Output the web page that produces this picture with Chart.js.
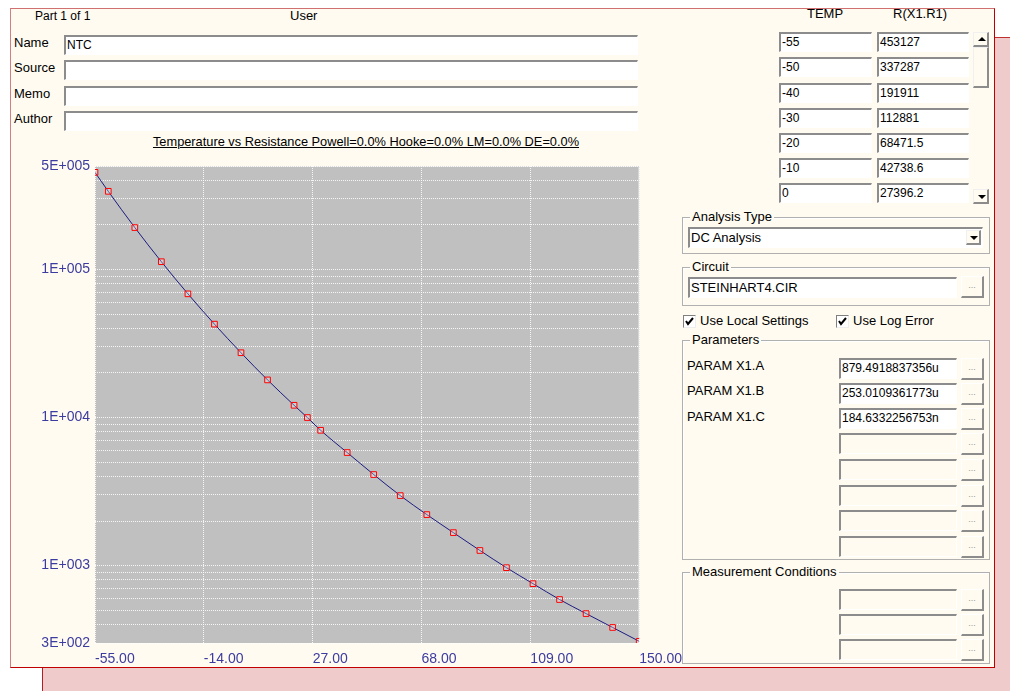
<!DOCTYPE html>
<html>
<head>
<meta charset="utf-8">
<script src="https://cdn.jsdelivr.net/npm/chart.js@4.4.1/dist/chart.umd.min.js"></script>
<style>
body{margin:0;width:1010px;height:691px;background:#fff;position:relative;overflow:hidden;font-family:"Liberation Sans",Arial,sans-serif;color:#000}
.abs{position:absolute}
#back{left:42px;top:37px;width:968px;height:654px;background:#efcbcb;border-left:1px solid #b02020;border-top:1px solid #c03030}
#dlg{left:10px;top:8px;width:983px;height:658px;background:#fffbf0;border-left:1px solid #d08080;border-top:1px solid #d07070;border-right:1px solid #c00000;border-bottom:1px solid #c00000}
.lbl{position:absolute;font-size:13px;line-height:14px;white-space:nowrap}
.inp{position:absolute;box-sizing:border-box;height:20px;background:#fff;border-top:2px solid #8c8c8c;border-left:2px solid #8c8c8c;border-bottom:1px solid #fff;border-right:1px solid #fff;font-size:12px;line-height:17px;padding-left:1px;white-space:nowrap;overflow:hidden}
.dis{background:#fffbf0}
.btn{position:absolute;box-sizing:border-box;width:23px;height:22px;background:#fffbf0;border-top:1px solid #fff;border-left:1px solid #fff;border-right:2px solid #8c8c8c;border-bottom:2px solid #8c8c8c;color:#999;font-size:9px;line-height:17px;text-align:center}
.grp{position:absolute;box-sizing:border-box;border:1px solid #b0b0b0;box-shadow:inset 1px 1px 0 #fff}
.grp span{position:absolute;left:7px;top:-8px;background:#fffbf0;padding:0 2px;font-size:13px;line-height:14px;white-space:nowrap}
.rb{position:absolute;box-sizing:border-box;background:#fffbf0;border-top:1px solid #f0f0f0;border-left:1px solid #f0f0f0;border-right:2px solid #8c8c8c;border-bottom:2px solid #8c8c8c}
.up,.dn{position:absolute;left:4px;width:0;height:0;border-left:4px solid transparent;border-right:4px solid transparent}
.up{top:4px;border-bottom:4px solid #000}
.dn{top:5px;border-top:4px solid #000}
.chk{position:absolute;box-sizing:border-box;width:13px;height:13px;background:#fff;border-top:1px solid #808080;border-left:1px solid #808080;border-bottom:1px solid #eee;border-right:1px solid #eee}
#title{position:absolute;left:0;width:732px;top:135px;text-align:center;font-size:12.8px;line-height:14px;text-decoration:underline}
</style>
</head>
<body>
<div id="back" class="abs"></div>
<div id="dlg" class="abs"></div>

<div class="lbl" style="left:35px;top:9px;font-size:12px">Part 1 of 1</div>
<div class="lbl" style="left:290px;top:9px">User</div>

<div class="lbl" style="left:14px;top:36px">Name</div>
<div class="lbl" style="left:14px;top:61px">Source</div>
<div class="lbl" style="left:14px;top:87px">Memo</div>
<div class="lbl" style="left:14px;top:112px">Author</div>
<div class="inp" style="left:64px;top:35px;width:574px">NTC</div>
<div class="inp" style="left:64px;top:60px;width:574px"></div>
<div class="inp" style="left:64px;top:86px;width:574px"></div>
<div class="inp" style="left:64px;top:111px;width:574px"></div>

<div id="title">Temperature vs Resistance Powell=0.0% Hooke=0.0% LM=0.0% DE=0.0%</div>

<div class="lbl" style="left:807px;top:7px">TEMP</div>
<div class="lbl" style="left:893px;top:7px">R(X1.R1)</div>
<div id="table"></div>
<div class="rb" style="left:973px;top:32px;width:16px;height:15px"><div class="up"></div></div>
<div class="rb" style="left:973px;top:47px;width:16px;height:41px"></div>
<div class="rb" style="left:973px;top:189px;width:16px;height:15px"><div class="dn"></div></div>

<div class="grp" style="left:682px;top:217px;width:308px;height:37px"><span>Analysis Type</span></div>
<div class="inp" style="left:688px;top:227px;width:295px;height:21px;font-size:13px;line-height:18px">DC Analysis</div>
<div class="rb" style="left:966px;top:230px;width:15px;height:15px"><div class="dn" style="left:3px"></div></div>

<div class="grp" style="left:682px;top:267px;width:308px;height:39px"><span>Circuit</span></div>
<div class="inp" style="left:688px;top:277px;width:269px;height:21px;font-size:13px;line-height:18px">STEINHART4.CIR</div>
<div class="btn" style="left:961px;top:276px">...</div>

<div class="chk" style="left:683px;top:315px"><svg width="11" height="11" style="position:absolute;left:0;top:0"><polyline points="2,5 4,8 9,2" fill="none" stroke="#000" stroke-width="2"/></svg></div>
<div class="lbl" style="left:700px;top:314px">Use Local Settings</div>
<div class="chk" style="left:836px;top:315px"><svg width="11" height="11" style="position:absolute;left:0;top:0"><polyline points="2,5 4,8 9,2" fill="none" stroke="#000" stroke-width="2"/></svg></div>
<div class="lbl" style="left:853px;top:314px">Use Log Error</div>

<div class="grp" style="left:682px;top:340px;width:308px;height:220px"><span>Parameters</span></div>
<div class="lbl" style="left:687px;top:359px">PARAM X1.A</div>
<div class="lbl" style="left:687px;top:384px">PARAM X1.B</div>
<div class="lbl" style="left:687px;top:410px">PARAM X1.C</div>
<div id="params"></div>

<div class="grp" style="left:682px;top:572px;width:308px;height:92px"><span>Measurement Conditions</span></div>
<div id="meas"></div>

<canvas id="chart" class="abs" width="670" height="518" style="left:20px;top:150px"></canvas>

<script>
// table values
var tableTemps = ["-55", "-50", "-40", "-30", "-20", "-10", "0"];
var tableRes = ["453127", "337287", "191911", "112881", "68471.5", "42738.6", "27396.2"];
var paramValues = ["879.4918837356u", "253.0109361773u", "184.6332256753n", "", "", "", "", ""];

// curve data (temperature, resistance)
var temps = [-55, -50, -40, -30, -20, -10, 0, 10, 20, 25, 30, 40, 50, 60, 70, 80, 90, 100, 110, 120, 130, 140, 150];
var resist = [453127, 337287, 191911, 112881, 68471.5, 42738.6, 27396.2, 17950, 12100, 10000, 8200, 5800, 4120, 2970, 2210, 1670, 1265, 968, 755, 590, 474, 382, 308];
var xTicks = [-55, -14, 27, 68, 109, 150];
var yLabels = [300, 1000, 10000, 100000, 500000];

function html(id, s) { document.getElementById(id).innerHTML = s; }

var rowTops = [32, 57, 83, 108, 133, 158, 183];
var s = "";
for (var i = 0; i < tableTemps.length; i++) {
    s += '<div class="inp" style="left:779px;top:' + rowTops[i] + 'px;width:93px">' + tableTemps[i] + '</div>';
    s += '<div class="inp" style="left:877px;top:' + rowTops[i] + 'px;width:92px">' + tableRes[i] + '</div>';
}
html("table", s);

var pTops = [358, 383, 408, 433, 459, 485, 510, 536];
s = "";
for (var i = 0; i < pTops.length; i++) {
    s += '<div class="inp' + (paramValues[i] ? '' : ' dis') + '" style="left:839px;top:' + pTops[i] + 'px;width:118px;height:21px">' + paramValues[i] + '</div>';
    s += '<div class="btn" style="left:961px;top:' + pTops[i] + 'px">...</div>';
}
html("params", s);

var mTops = [589, 614, 639];
s = "";
for (var i = 0; i < mTops.length; i++) {
    s += '<div class="inp dis" style="left:839px;top:' + mTops[i] + 'px;width:118px;height:21px"></div>';
    s += '<div class="btn" style="left:961px;top:' + mTops[i] + 'px">...</div>';
}
html("meas", s);

// grid values for log axis: 1..9 x each decade
var yGrid = [];
for (var d = 100; d <= 100000; d *= 10) {
    for (var m = 1; m <= 9; m++) {
        var v = m * d;
        if (v >= 300 && v <= 500000) yGrid.push(v);
    }
}

// 500000 -> "5E+005"
function sci(v) {
    var e = Math.floor(Math.log10(v) + 1e-9);
    var m = Math.round(v / Math.pow(10, e));
    return m + "E+" + String(e).padStart(3, "0");
}

var plotBg = {
    id: "plotBg",
    beforeDraw: function(chart) {
        var a = chart.chartArea, ctx = chart.ctx;
        ctx.save();
        ctx.fillStyle = "#c0c0c0";
        ctx.fillRect(a.left, a.top, a.right - a.left, a.bottom - a.top);
        ctx.strokeStyle = "#dcdcdc";
        ctx.lineWidth = 1;
        ctx.beginPath();
        ctx.moveTo(a.left, a.top + 0.5);
        ctx.lineTo(a.right - 0.5, a.top + 0.5);
        ctx.lineTo(a.right - 0.5, a.bottom);
        ctx.stroke();
        ctx.restore();
    }
};

var points = temps.map(function(t, i) { return { x: t, y: resist[i] }; });
var tickFont = { family: "'Liberation Sans', Arial, sans-serif", size: 14 };

var chart = new Chart(document.getElementById("chart").getContext("2d"), {
    type: "scatter",
    data: {
        datasets: [{
            data: points,
            showLine: true,
            borderColor: "#1c1c80",
            borderWidth: 1,
            cubicInterpolationMode: "monotone",
            pointStyle: "rect",
            pointRadius: 4,
            pointBorderWidth: 1,
            pointBorderColor: "#ff0000",
            pointBackgroundColor: "rgba(255,255,255,0.25)"
        }]
    },
    options: {
        responsive: false,
        animation: false,
        layout: { padding: { top: 16, right: 50, left: 0, bottom: 0 } },
        plugins: { legend: { display: false }, tooltip: { enabled: false } },
        scales: {
            x: {
                type: "linear",
                min: -55,
                max: 150,
                afterBuildTicks: function(scale) {
                    scale.ticks = xTicks.map(function(v) { return { value: v }; });
                },
                afterFit: function(scale) { scale.height = 25; },
                ticks: {
                    align: "start",
                    padding: 8,
                    color: "#3c3ca0",
                    font: tickFont,
                    maxRotation: 0,
                    autoSkip: false,
                    callback: function(v) { return v.toFixed(2); }
                },
                grid: { color: "rgba(255,255,255,0.85)", lineWidth: 1, drawTicks: false },
                border: { display: false, dash: [1, 1] }
            },
            y: {
                type: "logarithmic",
                min: 300,
                max: 500000,
                afterBuildTicks: function(scale) {
                    scale.ticks = yGrid.map(function(v) { return { value: v }; });
                },
                afterFit: function(scale) { scale.width = 75; },
                ticks: {
                    padding: 5,
                    color: "#3c3ca0",
                    font: tickFont,
                    autoSkip: false,
                    callback: function(v) { return yLabels.indexOf(v) >= 0 ? sci(v) : ""; }
                },
                grid: { color: "rgba(255,255,255,0.85)", lineWidth: 1, drawTicks: false },
                border: { display: false, dash: [1, 1] }
            }
        }
    },
    plugins: [plotBg]
});
</script>
</body>
</html>
